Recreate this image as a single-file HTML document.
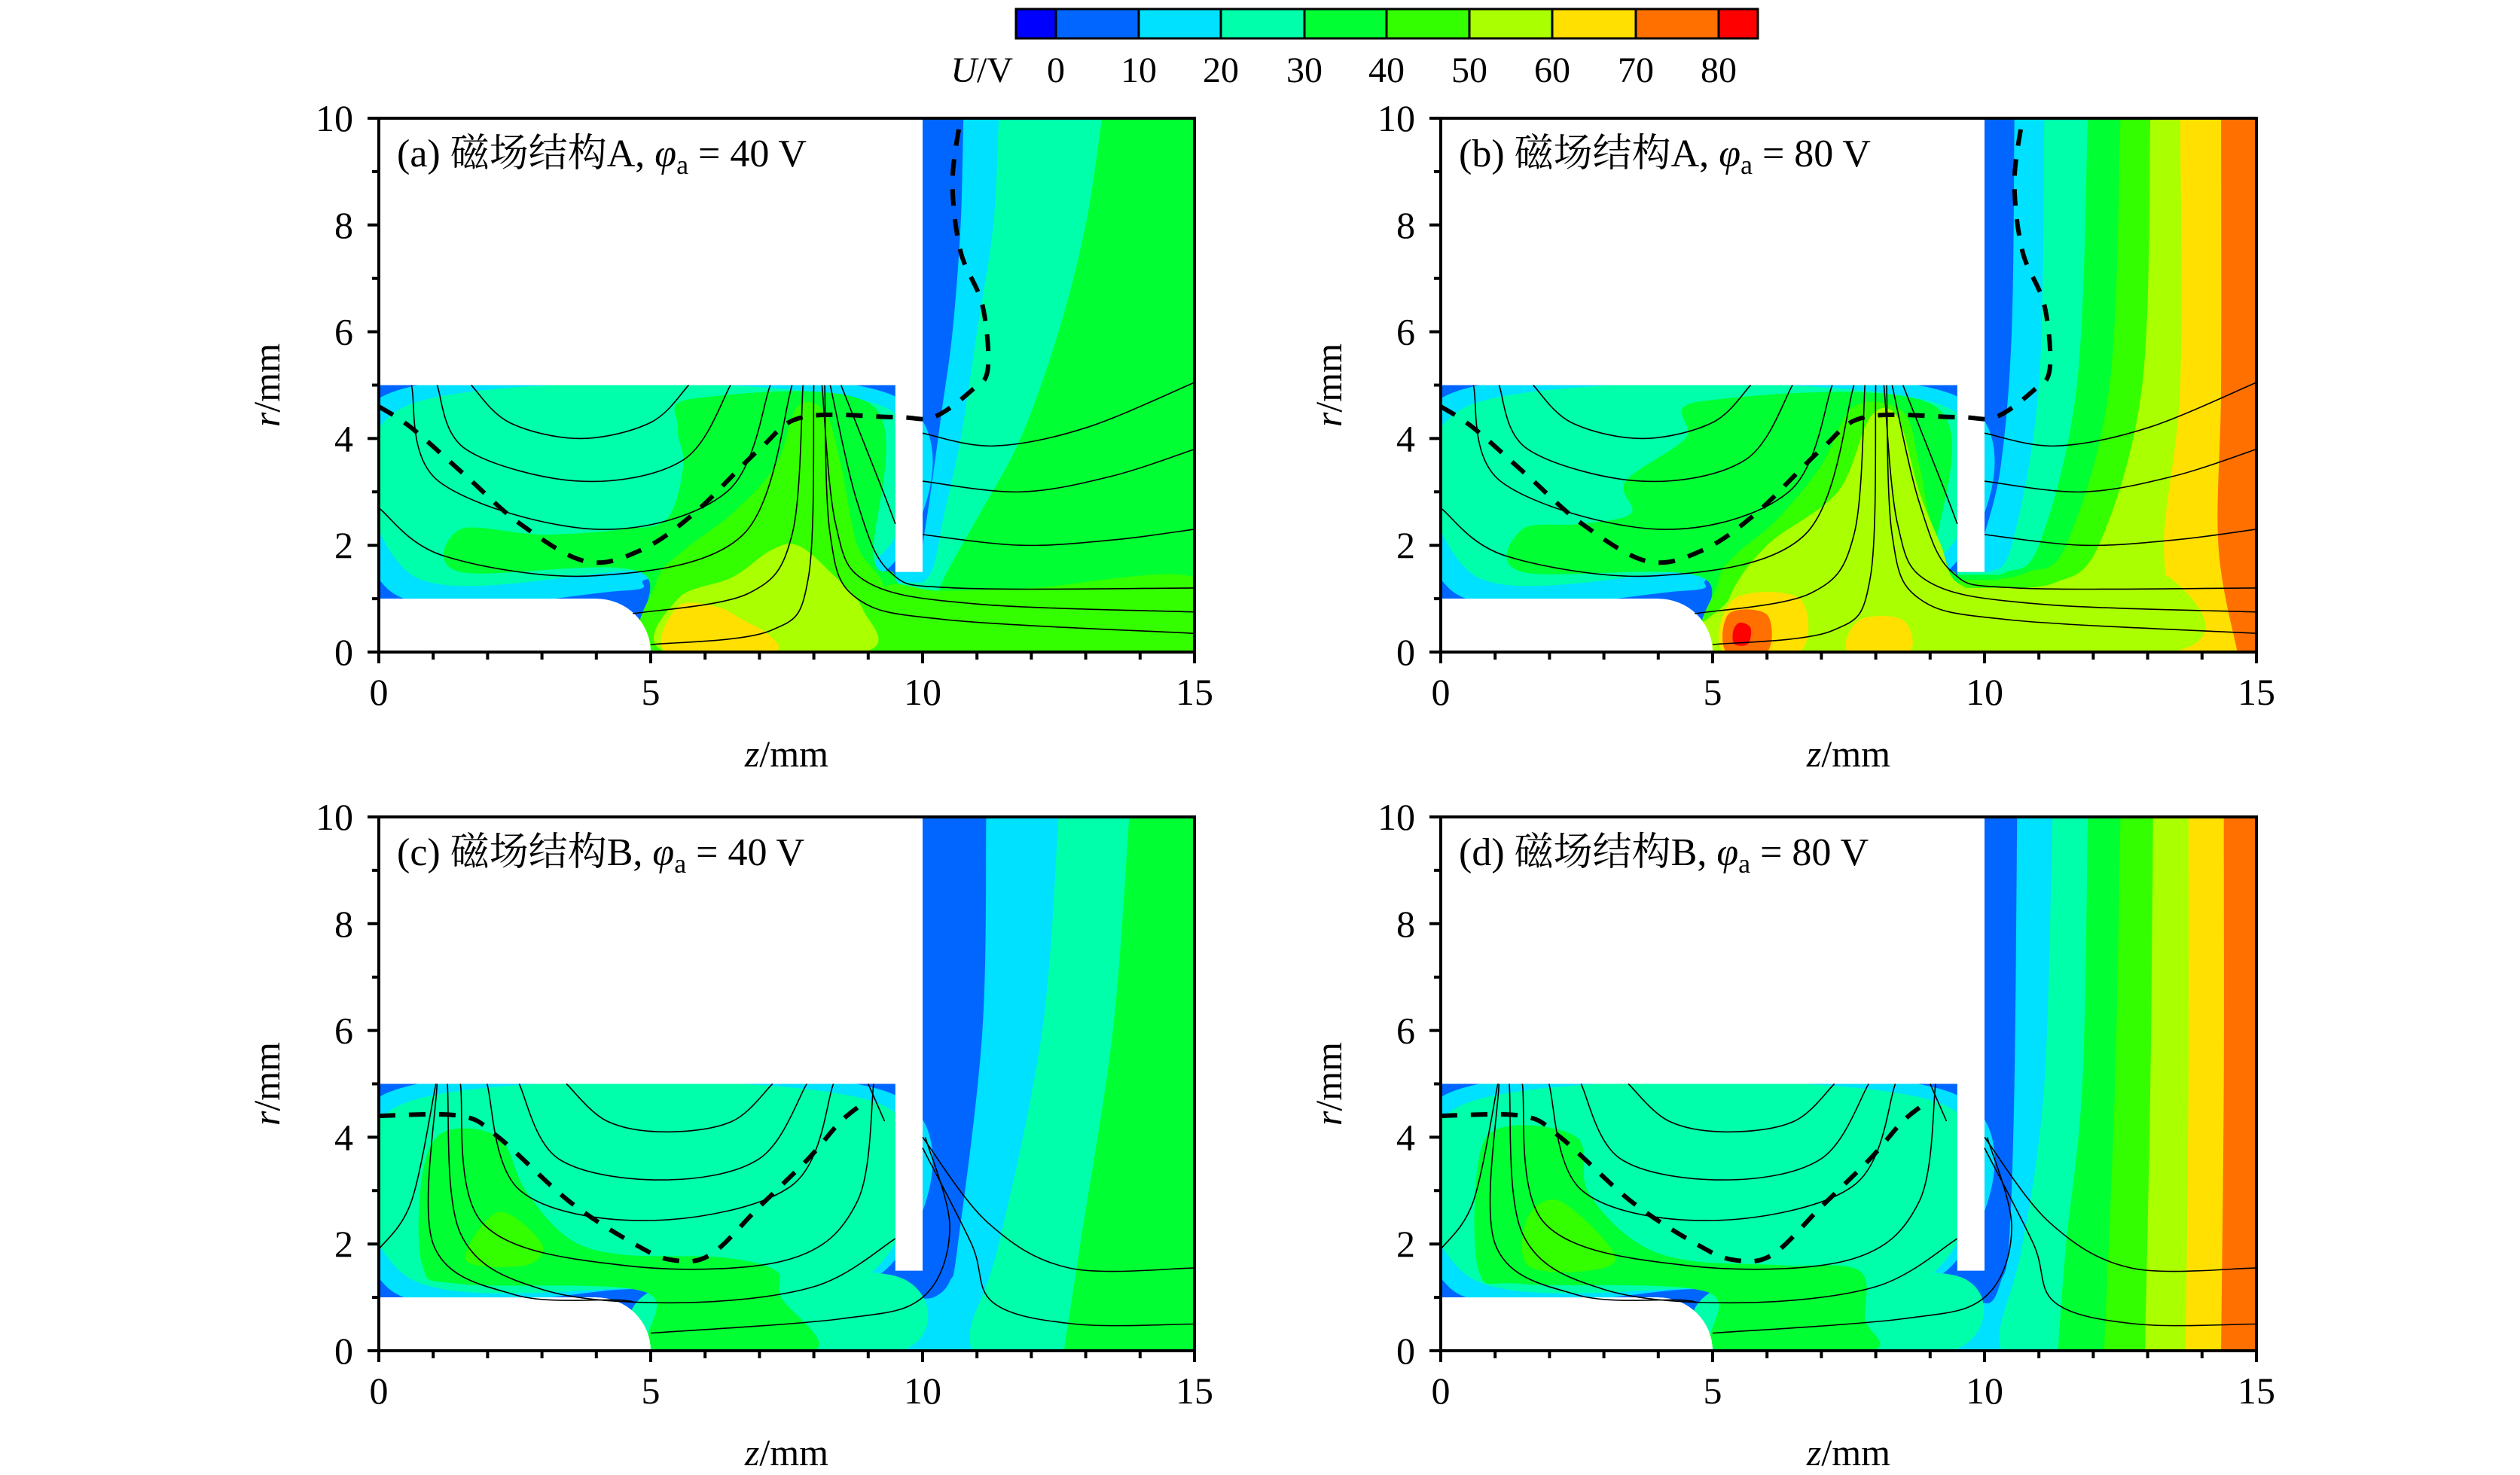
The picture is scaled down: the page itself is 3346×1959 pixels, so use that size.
<!DOCTYPE html>
<html><head><meta charset="utf-8"><style>
html,body{margin:0;padding:0;background:#fff}
svg{display:block}
text{font-family:"Liberation Serif","Noto Serif CJK SC",serif;fill:#000}
</style></head><body>
<svg id="fig" width="3346" height="1959" viewBox="0 0 3346 1959" xmlns="http://www.w3.org/2000/svg">
<g id="cbar"></g>
<g id="panels"></g>
</svg>
<script>
const levelColors = ["#0000ff","#0066ff","#00e0ff","#00ffaa","#00ff33","#33ff00","#aaff00","#ffe000","#ff7000","#ff0000"];
const levelTicks = ["0","10","20","30","40","50","60","70","80"];
const cbarEdges = [1349,1402,1512,1621,1732,1841,1951,2061,2172,2282,2334];
const zTicks = [0,5,10,15];
const rTicks = [0,2,4,6,8,10];
const panelTitles = [["(a) 磁场结构A, ","40"],["(b) 磁场结构A, ","80"],["(c) 磁场结构B, ","40"],["(d) 磁场结构B, ","80"]];

const bandsA = [
 [4,[[15,10],[15,5],[15,0]]],
 [3,[[13.3,10],[13,8],[12.5,6],[11.8,4],[11,2.5],[10.4,1.4],[10.2,0.8]]],
 [2,[[11.4,10],[11.3,8],[11,6],[10.7,4],[10.4,2.6],[10.2,1.6],[10,1.3]]],
 [1,[[10.75,10],[10.7,8],[10.55,6],[10.35,4.5],[10.15,3],[10,2]]]
];
const bandsB = [
 [8,[[15,10],[15,0]]],
 [7,[[14.35,10],[14.35,5],[14.3,2],[14.65,0]]],
 [6,[[13.6,10],[13.6,5],[13.3,2],[13.6,0]]],
 [5,[[13.05,10],[12.9,5],[12.1,2],[11.3,1.3],[10.3,1.2]]],
 [4,[[12.5,10],[12.3,5],[11.5,2],[10.8,1.5],[10.2,1.35]]],
 [3,[[11.9,10],[11.7,5],[11,2],[10.4,1.5],[10.1,1.45]]],
 [2,[[11.1,10],[11,5],[10.5,2],[10.1,1.5]]],
 [1,[[10.55,10],[10.5,6],[10.3,3.5],[10,2.2]]]
];
const bandsC = [
 [4,[[15,10],[15,0]]],
 [3,[[13.8,10],[13.5,6],[12.9,2],[12.6,0]]],
 [2,[[12.5,10],[12.2,6],[11.4,2],[10.9,0.5],[10.9,0]]],
 [1,[[11.17,10],[11.1,6],[10.65,2],[10.5,1.3],[10.2,1.0],[9.8,1.0]]]
];
const bandsD = [
 [8,[[15,10],[15,0]]],
 [7,[[14.4,10],[14.4,5],[14.35,0]]],
 [6,[[13.75,10],[13.75,5],[13.7,0]]],
 [5,[[13.1,10],[13.05,5],[12.95,0]]],
 [4,[[12.5,10],[12.4,5],[12.2,0]]],
 [3,[[11.9,10],[11.8,5],[11.5,2],[11.35,0]]],
 [2,[[11.25,10],[11.1,5],[10.7,2],[10.3,0.5],[10.3,0]]],
 [1,[[10.6,10],[10.55,5],[10.45,2],[10.3,1.3],[10.1,0.9],[9.7,1.0]]]
];
const blobsA = [
 [2,[[0.2,1.15],[4.5,1.15],[5.2,1.4],[9.3,1.5],[9.35,4.85],[0.2,4.85]]],
 [3,[[0.6,1.45],[5,1.55],[9.1,1.7],[9.15,4.65],[0.6,4.65]]],
 [4,[[1.5,1.5],[4.8,1.5],[5.1,0],[9.5,0],[9.5,1.4],[9.1,1.8],[9.1,4.6],[5.8,4.75],[5.5,4.2],[5.6,3.5],[5.3,2.5],[4.5,2.3],[3,2.2],[1.5,2.3]]],
 [5,[[5.1,0],[9.3,0],[9.3,1.2],[8.8,2],[8.5,3.5],[8.2,4.5],[7.7,4.6],[7.3,3.5],[6.5,2.6],[5.6,1.9],[5.1,1.3]]],
 [5,[[9.3,0],[15,0],[15,1.4],[12,1.2],[10.3,1.15],[9.3,1.2]]],
 [6,[[5.3,0],[8.9,0],[8.9,0.8],[8.3,1.5],[7.7,2],[7.2,1.9],[6.5,1.4],[5.5,1.0]]],
 [7,[[5.3,0],[7.2,0],[7.2,0.3],[6.7,0.6],[6.2,0.85],[5.5,0.85]]]
];
const blobsB = [
 [2,[[0.2,1.15],[4.5,1.15],[5.2,1.4],[9.3,1.5],[9.35,4.85],[0.2,4.85]]],
 [3,[[0.6,1.45],[5,1.55],[9.1,1.7],[9.15,4.65],[0.6,4.65]]],
 [4,[[1.5,1.5],[4.8,1.4],[5.1,0],[9.5,0],[9.5,1.4],[9.1,1.8],[9.1,4.6],[4.8,4.7],[4.5,4.0],[3.4,3.2],[3.5,2.6],[2.6,2.4],[1.5,2.3]]],
 [5,[[5.1,0],[9.4,0],[9.4,1.3],[9.0,2.5],[8.8,3.5],[8.5,4.5],[7.6,4.6],[7.0,3.5],[6.2,2.5],[5.4,1.8],[5.1,1.3]]],
 [6,[[5.2,0],[13.4,0],[13.4,1.4],[12,1.1],[10.5,1.0],[9.5,1.3],[9.2,2],[8.8,3],[8.4,4.4],[7.9,4.4],[7.3,3],[6,2],[5.3,1.0]]],
 [7,[[5.2,0],[6.6,0],[6.6,1.0],[5.4,1.0]]],
 [7,[[7.5,0],[8.6,0],[8.5,0.6],[7.7,0.6]]],
 [8,[[5.25,0],[6.0,0],[6.0,0.7],[5.3,0.72]]],
 [9,[[5.4,0.15],[5.65,0.15],[5.7,0.45],[5.5,0.55],[5.38,0.4]]]
];
const blobsC = [
 [2,[[0.2,1.15],[4.5,1.15],[5.2,1.3],[9.3,1.5],[9.35,4.85],[0.2,4.85]]],
 [3,[[0.5,1.4],[5.3,1.2],[9.1,1.5],[9.15,4.65],[0.5,4.65]]],
 [3,[[5.1,0],[9.6,0],[9.5,1.4],[5.2,1.2]]],
 [4,[[0.8,1.6],[0.8,3.3],[1.2,4.1],[2.2,4.0],[2.7,3.0],[3.5,2.1],[4.5,1.8],[6.3,1.75],[7.3,1.5],[7.4,1.0],[8.0,0],[5.1,0],[4.9,1.1],[1.5,1.25]]],
 [5,[[1.6,1.7],[2.2,2.6],[3.0,2.0],[2.7,1.6]]]
];
const blobsD = [
 [2,[[0.2,1.15],[4.5,1.15],[5.2,1.3],[9.3,1.5],[9.35,4.85],[0.2,4.85]]],
 [3,[[0.5,1.4],[5.3,1.2],[9.1,1.5],[9.15,4.65],[0.5,4.65]]],
 [3,[[5.1,0],[9.4,0],[9.5,1.4],[5.2,1.2]]],
 [4,[[0.7,1.5],[0.7,3.6],[1.2,4.2],[2.5,4.0],[2.7,3.0],[3.5,2.1],[4.5,1.7],[6.3,1.6],[7.7,1.5],[7.8,0.6],[7.9,0],[5.1,0],[4.9,1.1],[1.5,1.25]]],
 [5,[[1.6,1.6],[1.6,2.5],[2.2,2.8],[3.2,1.8],[2.7,1.5]]]
];
const streamsAB = [
 [[1.7,5],[2.4,4.3],[3.7,4.0],[5.0,4.3],[5.7,5]],
 [[1.07,5],[1.6,3.8],[3.7,3.2],[5.6,3.6],[6.47,5]],
 [[0.6,5],[1.1,3.2],[4.0,2.3],[6.4,3.0],[7.2,5]],
 [[0,2.7],[1.2,1.8],[4.0,1.43],[6.7,2.2],[7.6,5]],
 [[4.67,0.72],[6.8,1.1],[7.6,2.2],[7.8,5]],
 [[5.0,0.14],[7.2,0.4],[7.9,1.4],[8.0,5]],
 [[8.2,5],[8.3,2.2],[8.8,1.0],[10.5,0.6],[15,0.35]],
 [[8.15,5],[8.4,2.4],[9.0,1.3],[11,0.9],[15,0.75]],
 [[8.3,5],[8.8,2.8],[9.4,1.5],[10.6,1.2],[15,1.2]],
 [[8.5,5],[9.2,3.2],[9.5,2.4]],
 [[10,4.1],[11.3,3.86],[13,4.2],[15,5.05]],
 [[10,3.2],[11.8,3.0],[13.5,3.3],[15,3.8]],
 [[10,2.2],[11.8,2.0],[13.5,2.1],[15,2.3]]
];
const streamsCD = [
 [[3.45,5],[4.2,4.3],[5.3,4.1],[6.5,4.3],[7.24,5]],
 [[2.58,5],[3.3,3.6],[5.2,3.2],[7.0,3.6],[7.87,5]],
 [[1.99,5],[2.6,3.0],[5.0,2.44],[7.6,3.1],[8.36,5]],
 [[1.5,5],[1.9,2.4],[4.5,1.6],[7.5,1.7],[8.8,2.8],[9.1,5]],
 [[1.26,5],[1.5,2.2],[3.0,1.15],[5.5,0.9],[8.0,1.2],[9.5,2.1]],
 [[1.07,5],[1.0,2.0],[2.5,1.05],[4.4,0.95],[4.7,0.9]],
 [[5.0,0.33],[8.5,0.6],[10.0,1.0],[10.5,2.3],[10.05,4.0]],
 [[0,1.9],[0.6,2.8],[1.05,5]],
 [[10,4.0],[11.2,2.4],[12.7,1.55],[15,1.55]],
 [[10,3.8],[10.9,2.0],[11.3,0.9],[12.8,0.5],[15,0.5]],
 [[9.0,5],[9.3,4.3]]
];
const dashAB = [[0,4.6],[0.6,4.2],[1.6,3.3],[2.6,2.4],[3.8,1.7],[4.8,1.9],[5.8,2.6],[7.0,3.8],[7.8,4.4],[9.5,4.4],[10.2,4.4],[10.9,4.9],[11.2,5.3],[11.1,6.5],[10.7,7.5],[10.55,8.8],[10.7,10]];
const dashCD = [[0,4.4],[1.5,4.4],[2.2,4.0],[3.5,2.8],[4.7,2.0],[5.4,1.7],[6.1,1.8],[7,2.7],[7.9,3.6],[8.5,4.3],[9.0,4.7]];

const panels = [
 {x0:503,y0:157,bands:bandsA,blobs:blobsA,streams:streamsAB,dash:dashAB},
 {x0:1913,y0:157,bands:bandsB,blobs:blobsB,streams:streamsAB,dash:dashAB},
 {x0:503,y0:1085,bands:bandsC,blobs:blobsC,streams:streamsCD,dash:dashCD},
 {x0:1913,y0:1085,bands:bandsD,blobs:blobsD,streams:streamsCD,dash:dashCD}
];
const PW=1083, PH=709;
const NS="http://www.w3.org/2000/svg";
function mk(tag,attrs,parent){const e=document.createElementNS(NS,tag);for(const k in attrs)e.setAttribute(k,attrs[k]);parent.appendChild(e);return e;}
function smooth(pts,closed){
 let n=pts.length; if(n<3){return "M"+pts.map(p=>p[0].toFixed(1)+","+p[1].toFixed(1)).join("L")+(closed?"Z":"");}
 let d="M"+pts[0][0].toFixed(1)+","+pts[0][1].toFixed(1);
 const g=i=>closed?pts[(i+n)%n]:pts[Math.max(0,Math.min(n-1,i))];
 const last=closed?n:n-1;
 for(let i=0;i<last;i++){const p0=g(i-1),p1=g(i),p2=g(i+1),p3=g(i+2);
  const c1=[p1[0]+(p2[0]-p0[0])/6,p1[1]+(p2[1]-p0[1])/6],c2=[p2[0]-(p3[0]-p1[0])/6,p2[1]-(p3[1]-p1[1])/6];
  d+="C"+c1[0].toFixed(1)+","+c1[1].toFixed(1)+" "+c2[0].toFixed(1)+","+c2[1].toFixed(1)+" "+p2[0].toFixed(1)+","+p2[1].toFixed(1);}
 return d+(closed?"Z":"");
}
const cb=document.getElementById('cbar');
for(let i=0;i<levelColors.length;i++){
 const r=mk('rect',{x:cbarEdges[i],y:12,width:cbarEdges[i+1]-cbarEdges[i],height:39,fill:levelColors[i],stroke:'#000','stroke-width':3},cb);
 
 
}
for(let i=0;i<levelTicks.length;i++){
 const t=mk('text',{x:cbarEdges[i+1],y:109,'font-size':48,'text-anchor':'middle'},cb);
 t.textContent=levelTicks[i];
 
 
}
const ul=mk('text',{x:1345,y:109,'font-size':48,'text-anchor':'end'},cb);
ul.innerHTML='<tspan font-style="italic">U</tspan>/V';



const root=document.getElementById('panels');
panels.forEach((P,pi)=>{
 const sx=z=>P.x0+z/15*PW, sy=r=>P.y0+PH-r/10*PH;
 const map=pts=>pts.map(p=>[sx(p[0]),sy(p[1])]);
 const g=mk('g',{},root);
 
 
 const cid='clip'+pi;
 const cp=mk('clipPath',{id:cid},g); mk('rect',{x:P.x0,y:P.y0,width:PW,height:PH},cp);
 const f=mk('g',{'clip-path':'url(#'+cid+')'},g);
 
 
 P.bands.forEach(b=>{
  const pts=map(b[1]);
  const lp=b[1][b[1].length-1];
  let d=smooth(pts,false).replace(/^M/,"M"+sx(9.5).toFixed(1)+","+sy(10).toFixed(1)+"L");
  if(lp[1]<0.01){ d+="L"+sx(9.5).toFixed(1)+","+sy(0).toFixed(1)+"Z"; }
  else { d+="L"+sx(9.5).toFixed(1)+","+sy(lp[1]).toFixed(1)+"Z"; }
  const e=mk('path',{d:d,fill:levelColors[b[0]]},f);
  
  
 });
 const cbase=mk('rect',{x:sx(0),y:sy(5),width:sx(9.5)-sx(0),height:sy(1)-sy(5),fill:levelColors[1]},f);
 
 
 const cb2=mk('rect',{x:sx(4),y:sy(1.2),width:sx(5.2)-sx(4),height:sy(0)-sy(1.2),fill:levelColors[1]},f);
 
 
 P.blobs.forEach(b=>{
  const e=mk('path',{d:smooth(map(b[1]),true),fill:levelColors[b[0]]},f);
  
  
 });
 const m1=mk('path',{d:`M${sx(0)},${sy(10)}L${sx(10)},${sy(10)}L${sx(10)},${sy(1.5)}L${sx(9.5)},${sy(1.5)}L${sx(9.5)},${sy(5)}L${sx(0)},${sy(5)}Z`,fill:'#fff'},f);
 
 
 const rx=sx(1)-sx(0), ry=sy(0)-sy(1);
 const m2=mk('path',{d:`M${sx(0)},${sy(0)}L${sx(0)},${sy(1)}L${sx(4)},${sy(1)}A${rx},${ry} 0 0 1 ${sx(5)},${sy(0)}Z`,fill:'#fff'},f);
 
 
 P.streams.forEach(s=>{
  const e=mk('path',{d:smooth(map(s),false),fill:'none',stroke:'#000','stroke-width':1.6},f);
  
  
 });
 const dl=mk('path',{d:smooth(map(P.dash),false),fill:'none',stroke:'#000','stroke-width':6,'stroke-dasharray':'22 18'},f);
 
 
 const ax=mk('rect',{x:P.x0,y:P.y0,width:PW,height:PH,fill:'none',stroke:'#000','stroke-width':4},g);
 
 
 let td="";
 for(let z=0;z<=15;z++){const L=(z%5==0)?15:10;td+=`M${sx(z)},${P.y0+PH}L${sx(z)},${P.y0+PH+L}`;}
 for(let r=0;r<=10;r++){const L=(r%2==0)?15:9;td+=`M${P.x0},${sy(r)}L${P.x0-L},${sy(r)}`;}
 const tk=mk('path',{d:td,stroke:'#000','stroke-width':4,fill:'none'},g);
 
 
 zTicks.forEach(z=>{const t=mk('text',{x:sx(z),y:P.y0+PH+70,'font-size':50,'text-anchor':'middle'},g);t.textContent=z;
  
  });
 rTicks.forEach(r=>{const t=mk('text',{x:P.x0-34,y:sy(r)+17,'font-size':50,'text-anchor':'end'},g);t.textContent=r;
  
  });
 const xt=mk('text',{x:P.x0+PW/2,y:P.y0+PH+152,'font-size':50,'text-anchor':'middle'},g);
 xt.innerHTML='<tspan font-style="italic">z</tspan>/mm';
 
 
 const yt=mk('text',{x:0,y:0,'font-size':50,'text-anchor':'middle',transform:`translate(${P.x0-132},${P.y0+PH/2}) rotate(-90)`},g);
 yt.innerHTML='<tspan font-style="italic">r</tspan>/mm';
 
 
 const tt=mk('text',{x:P.x0+24,y:P.y0+64,'font-size':52},g);
 tt.innerHTML=panelTitles[pi][0]+'<tspan font-style="italic">φ</tspan><tspan font-size="36" dy="10">a</tspan><tspan dy="-10"> = '+panelTitles[pi][1]+'  V</tspan>';
 
 
});
</script>
</body></html>
